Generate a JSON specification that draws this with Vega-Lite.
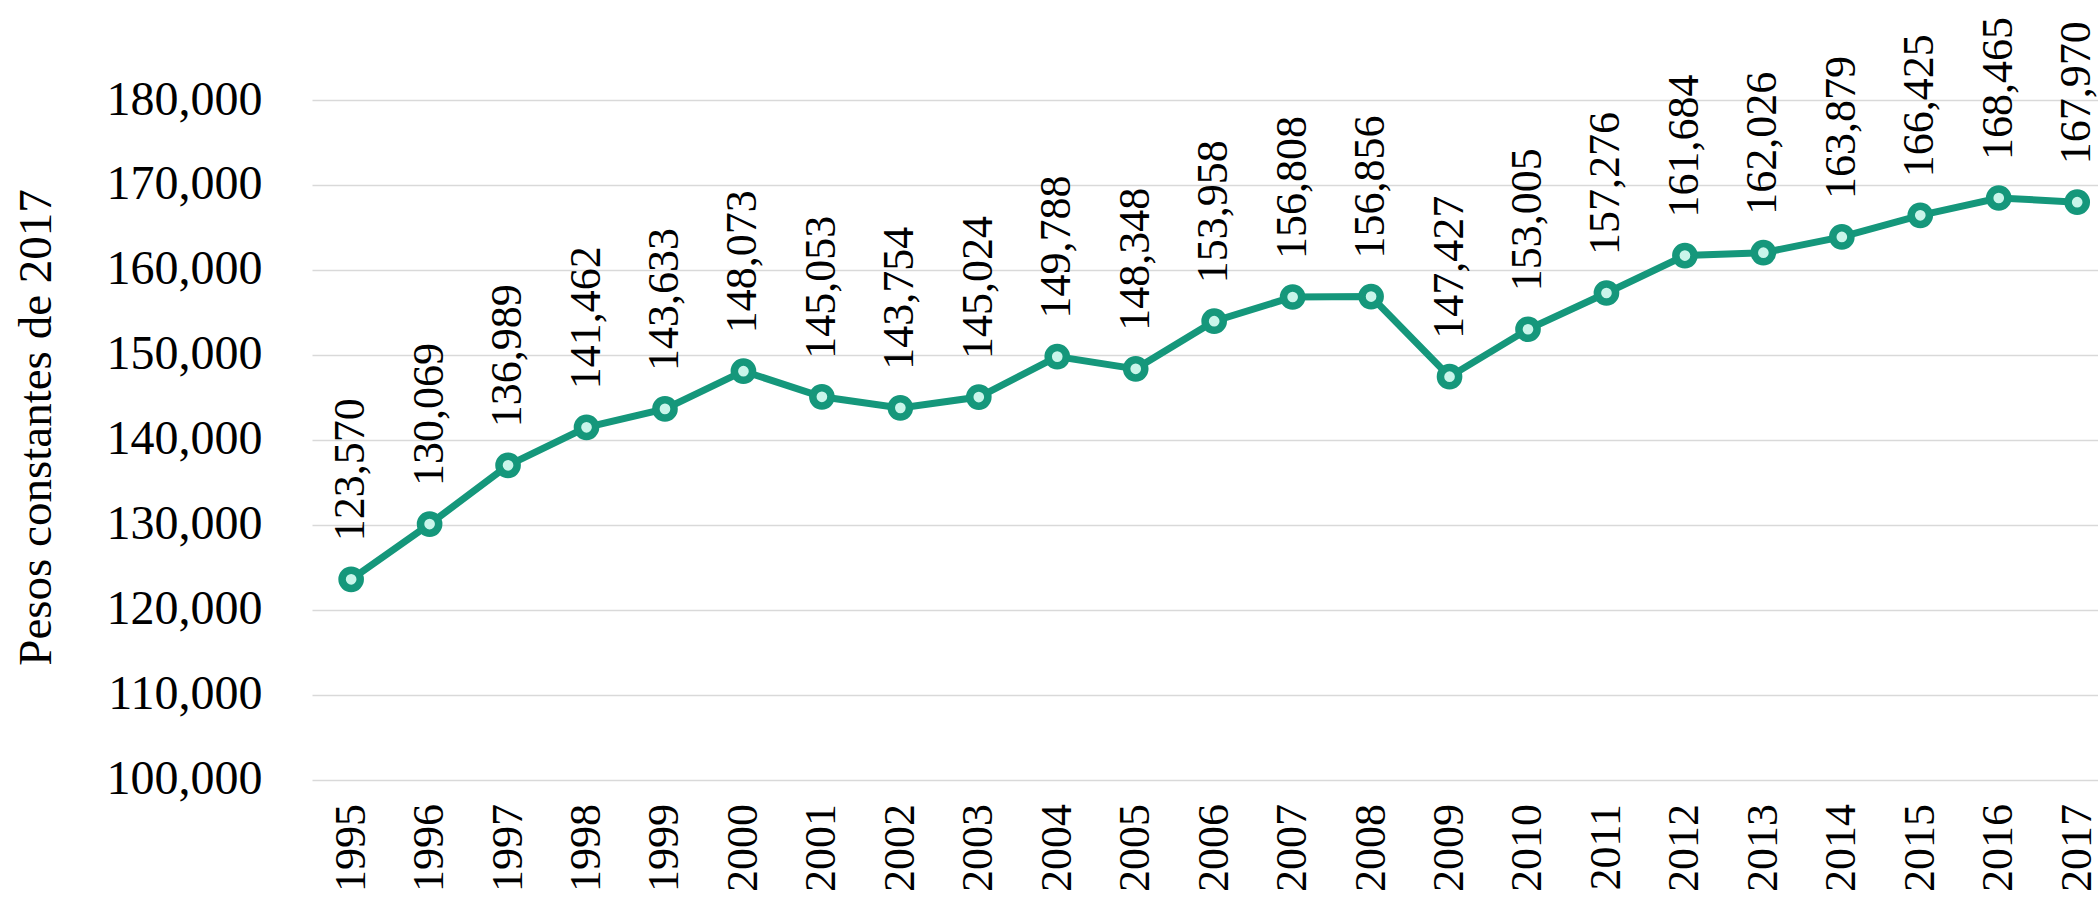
{
  "$schema": "https://vega.github.io/schema/vega-lite/v6.json",
  "width": 1786,
  "height": 679.5,
  "autosize": {"type": "none"},
  "padding": {"left": 312, "top": 100, "right": 0, "bottom": 127.5},
  "background": "white",
  "config": {
    "view": {"stroke": null},
    "font": "Liberation Serif"
  },
  "data": {
    "values": [
      {"year": "1995", "value": 123570},
      {"year": "1996", "value": 130069},
      {"year": "1997", "value": 136989},
      {"year": "1998", "value": 141462},
      {"year": "1999", "value": 143633},
      {"year": "2000", "value": 148073},
      {"year": "2001", "value": 145053},
      {"year": "2002", "value": 143754},
      {"year": "2003", "value": 145024},
      {"year": "2004", "value": 149788},
      {"year": "2005", "value": 148348},
      {"year": "2006", "value": 153958},
      {"year": "2007", "value": 156808},
      {"year": "2008", "value": 156856},
      {"year": "2009", "value": 147427},
      {"year": "2010", "value": 153005},
      {"year": "2011", "value": 157276},
      {"year": "2012", "value": 161684},
      {"year": "2013", "value": 162026},
      {"year": "2014", "value": 163879},
      {"year": "2015", "value": 166425},
      {"year": "2016", "value": 168465},
      {"year": "2017", "value": 167970}
    ]
  },
  "encoding": {
    "x": {
      "field": "year",
      "type": "ordinal",
      "sort": null,
      "scale": {"type": "point", "padding": 0.382, "align": 0.653},
      "axis": {
        "title": null,
        "labelAngle": 270,
        "labelAlign": "right",
        "labelBaseline": "middle",
        "labelFont": "Liberation Serif",
        "labelFontSize": 44,
        "labelColor": "#000000",
        "labelPadding": 24,
        "ticks": false,
        "domain": false,
        "grid": false
      }
    },
    "y": {
      "field": "value",
      "type": "quantitative",
      "scale": {"domain": [100000, 180000], "nice": false, "zero": false},
      "axis": {
        "title": "Pesos constantes de 2017",
        "titleFont": "Liberation Serif",
        "titleFontSize": 47,
        "titleFontWeight": "normal",
        "titleColor": "#000000",
        "titleAngle": 270,
        "titleAlign": "center",
        "titleBaseline": "alphabetic",
        "titleX": -262,
        "titleY": 327,
        "values": [100000, 110000, 120000, 130000, 140000, 150000, 160000, 170000, 180000],
        "format": ",.0f",
        "labelFont": "Liberation Serif",
        "labelFontSize": 48,
        "labelColor": "#000000",
        "labelPadding": 50,
        "labelBaseline": "middle",
        "ticks": false,
        "domain": false,
        "grid": true,
        "gridColor": "#d9d9d9",
        "gridWidth": 1.5
      }
    }
  },
  "layer": [
    {
      "mark": {"type": "line", "color": "#15977b", "strokeWidth": 7}
    },
    {
      "mark": {"type": "point", "shape": "circle", "filled": true, "fill": "#c9f5ea", "stroke": "#15977b", "strokeWidth": 7.5, "size": 330, "opacity": 1}
    },
    {
      "mark": {"type": "text", "angle": 270, "align": "left", "baseline": "middle", "dx": 38, "font": "Liberation Serif", "fontSize": 44, "color": "#000000"},
      "encoding": {
        "text": {"field": "value", "type": "quantitative", "format": ",.0f"}
      }
    }
  ]
}
